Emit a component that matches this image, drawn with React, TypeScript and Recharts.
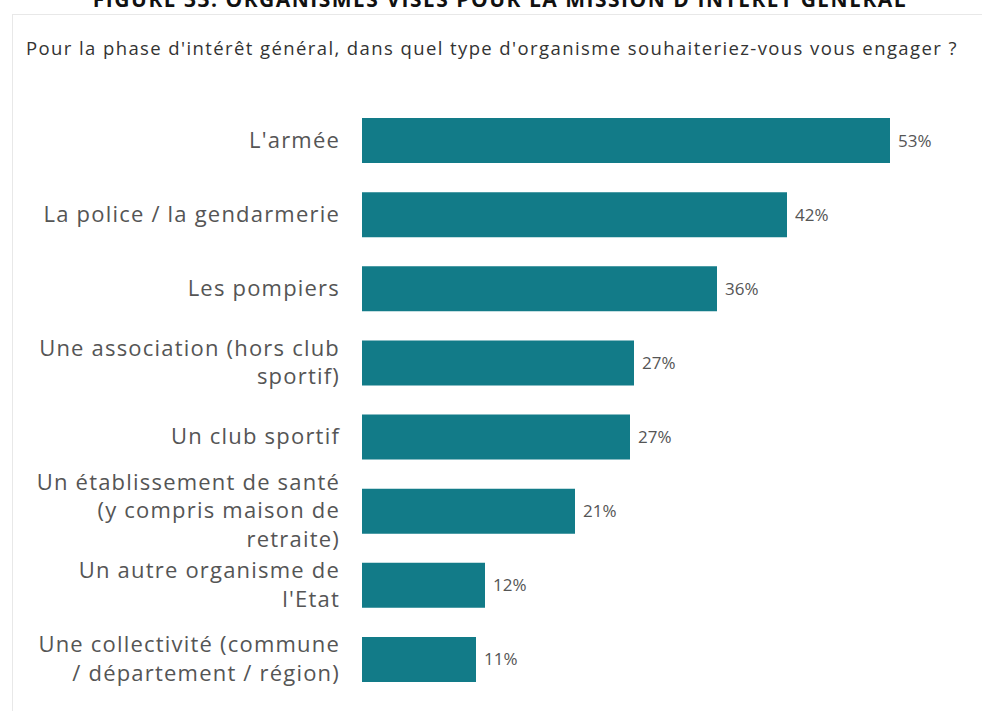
import React from "react";
import { BarChart, Bar, XAxis, YAxis, LabelList } from "recharts";

const categories = [
  "L'armée",
  "La police / la gendarmerie",
  "Les pompiers",
  "Une association (hors club\nsportif)",
  "Un club sportif",
  "Un établissement de santé\n(y compris maison de\nretraite)",
  "Un autre organisme de\nl'Etat",
  "Une collectivité (commune\n/ département / région)",
];

const shares = [52.8, 42.5, 35.5, 27.2, 26.8, 21.3, 12.3, 11.4];
const shareLabels = ["53%", "42%", "36%", "27%", "27%", "21%", "12%", "11%"];

const data = categories.map((name, i) => ({ name, value: shares[i], label: shareLabels[i] }));

const FONT = "'Open Sans', Lato, sans-serif";
const BAR_COLOR = "#127b88";

const CategoryTick = ({ x, y, payload }: any) => {
  const lines: string[] = String(payload.value).split("\n");
  const lineH = 28.5;
  const start = -((lines.length - 1) * lineH) / 2;
  return (
    <text
      x={x}
      y={y}
      textAnchor="end"
      fill="#555"
      fontSize={22}
      fontFamily={FONT}
      letterSpacing={1.2}
    >
      {lines.map((l, i) => (
        <tspan key={i} x={x} y={y + start + i * lineH} dy={7.5}>
          {l}
        </tspan>
      ))}
    </text>
  );
};

export default function App() {
  return (
    <div
      style={{
        position: "absolute",
        left: 0,
        top: 0,
        width: 982,
        height: 711,
        overflow: "hidden",
        background: "#fff",
        fontFamily: FONT,
      }}
    >
      <div
        style={{
          position: "absolute",
          top: -15,
          left: 0,
          width: 1000,
          textAlign: "center",
          fontSize: 21,
          fontWeight: 700,
          color: "#111",
          letterSpacing: 1.5,
          whiteSpace: "nowrap",
        }}
      >
        FIGURE 33. ORGANISMES VISÉS POUR LA MISSION D'INTÉRÊT GÉNÉRAL
      </div>
      <div
        style={{
          position: "absolute",
          left: 12,
          top: 14,
          width: 990,
          height: 720,
          border: "1px solid #e8e8e8",
          boxSizing: "border-box",
        }}
      />
      <div
        style={{
          position: "absolute",
          top: 35,
          left: 26,
          fontSize: 18.5,
          fontWeight: 500,
          color: "#333",
          letterSpacing: 1.4,
          whiteSpace: "nowrap",
        }}
      >
        Pour la phase d'intérêt général, dans quel type d'organisme souhaiteriez-vous vous engager ?
      </div>
      <div style={{ position: "absolute", left: 0, top: 0 }}>
        <BarChart
          layout="vertical"
          width={982}
          height={711}
          data={data}
          margin={{ top: 103, right: 20, left: 12, bottom: 15 }}
        >
          <XAxis type="number" domain={[0, 60]} hide />
          <YAxis
            type="category"
            dataKey="name"
            width={350}
            axisLine={false}
            tickLine={false}
            tickSize={0}
            tickMargin={22}
            tick={<CategoryTick />}
            interval={0}
          />
          <Bar dataKey="value" fill={BAR_COLOR} barSize={45} isAnimationActive={false}>
            <LabelList
              dataKey="label"
              position="right"
              offset={8}
              fill="#555"
              fontSize={17}
              fontFamily={FONT}
            />
          </Bar>
        </BarChart>
      </div>
    </div>
  );
}
